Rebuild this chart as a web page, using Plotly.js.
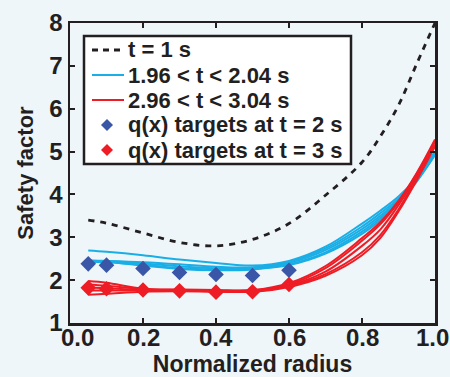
<!DOCTYPE html>
<html><head><meta charset="utf-8">
<script src="https://cdn.plot.ly/plotly-3.0.1.min.js"></script>
<style>html,body{margin:0;padding:0;background:#eef6fa;}</style>
</head><body><div id="chart" style="width:450px;height:377px;"></div>
<script>
const radius = [0.05,0.1,0.2,0.3,0.4,0.5,0.6,0.7,0.8,0.85,0.9,0.95,1.0];
const qT1 = [3.40,3.33,3.10,2.88,2.80,2.95,3.32,3.98,4.75,5.35,6.08,7.05,8.0];
const qBlue1 = [2.69,2.66,2.58,2.48,2.40,2.34,2.45,2.78,3.32,3.62,3.95,4.40,5.00];
const qBlue2 = [2.46,2.45,2.42,2.37,2.31,2.30,2.43,2.74,3.25,3.56,3.90,4.38,4.98];
const qBlue3 = [2.45,2.44,2.39,2.32,2.28,2.28,2.40,2.70,3.19,3.50,3.86,4.34,4.95];
const qBlue4 = [2.43,2.42,2.36,2.28,2.25,2.26,2.37,2.65,3.13,3.45,3.83,4.32,4.93];
const qBlue5 = [2.44,2.43,2.34,2.26,2.23,2.25,2.35,2.62,3.08,3.40,3.80,4.30,4.92];
const qRed1 = [1.98,1.94,1.80,1.78,1.77,1.77,1.93,2.33,2.98,3.35,3.85,4.50,5.28];
const qRed2 = [1.90,1.87,1.79,1.77,1.76,1.76,1.90,2.28,2.92,3.30,3.82,4.48,5.25];
const qRed3 = [1.83,1.81,1.77,1.76,1.75,1.75,1.88,2.20,2.80,3.18,3.75,4.45,5.22];
const qRed4 = [1.76,1.76,1.76,1.75,1.74,1.74,1.86,2.14,2.65,3.05,3.65,4.38,5.15];
const qRed5 = [1.66,1.68,1.73,1.74,1.73,1.73,1.84,2.10,2.58,2.98,3.60,4.33,5.12];
const targetX = [0.05,0.1,0.2,0.3,0.4,0.5,0.6];
const targetT2 = [2.38,2.35,2.27,2.18,2.13,2.11,2.23];
const targetT3 = [1.82,1.80,1.77,1.75,1.72,1.73,1.90];
const names = ["t = 1 s","1.96 < t < 2.04 s","2.96 < t < 3.04 s","q(x) targets at t = 2 s","q(x) targets at t = 3 s"];
const xTickVals = [0,0.2,0.4,0.6,0.8,1.0];
const xTickText = ["0.0","0.2","0.4","0.6","0.8","1.0"];
const yTickVals = [1,2,3,4,5,6,7,8];
const yTickText = ["1","2","3","4","5","6","7","8"];

const BLUE = "#1aaee6", RED = "#ee1c25", DKBLUE = "#3a56a6", INK = "#231f20", BG = "#eef6fa";
const traces = [];
[qBlue1,qBlue2,qBlue3,qBlue4,qBlue5].forEach((q,i)=>traces.push({
  x: radius, y: q, mode:"lines", line:{color:BLUE,width:2,shape:"spline"},
  name: names[1], showlegend:false}));
[qRed1,qRed2,qRed3,qRed4,qRed5].forEach((q,i)=>traces.push({
  x: radius, y: q, mode:"lines", line:{color:RED,width:2,shape:"spline"},
  name: names[2], showlegend:false}));
traces.push({x: radius, y: qT1, mode:"lines", line:{color:INK,width:2.8,dash:"6px,6px",shape:"spline"},
  name: names[0], showlegend:false});
traces.push({x: targetX, y: targetT2, mode:"markers", marker:{symbol:"diamond",size:12,color:DKBLUE},
  name: names[3], showlegend:false});
traces.push({x: targetX, y: targetT3, mode:"markers", marker:{symbol:"diamond",size:12,color:RED},
  name: names[4], showlegend:false});

// plot area in pixels (for legend placement in paper coords)
const L = 70, R = 435, T = 23, B = 323;
const px = v => (v - L) / (R - L);
const py = v => (B - v) / (B - T);

const FONT = "Liberation Sans Narrow, Arial Narrow, Liberation Sans, sans-serif";
const shapes = [
  {type:"rect", xref:"paper", yref:"paper", x0:px(84), x1:px(351), y0:py(164), y1:py(36),
   fillcolor:"#ffffff", line:{color:INK, width:2.5}, layer:"above"}
];
const rowY = [50, 75, 100, 125, 150];
shapes.push({type:"line", xref:"paper", yref:"paper", x0:px(92), x1:px(125), y0:py(rowY[0]), y1:py(rowY[0]),
  line:{color:INK, width:2.8, dash:"6px,5px"}, layer:"above"});
shapes.push({type:"line", xref:"paper", yref:"paper", x0:px(92), x1:px(124), y0:py(rowY[1]), y1:py(rowY[1]),
  line:{color:BLUE, width:2}, layer:"above"});
shapes.push({type:"line", xref:"paper", yref:"paper", x0:px(92), x1:px(124), y0:py(rowY[2]), y1:py(rowY[2]),
  line:{color:RED, width:2}, layer:"above"});
function diamond(cx, cy, r, color){
  const p = `M ${px(cx)},${py(cy-r)} L ${px(cx+r)},${py(cy)} L ${px(cx)},${py(cy+r)} L ${px(cx-r)},${py(cy)} Z`;
  return {type:"path", xref:"paper", yref:"paper", path:p, fillcolor:color, line:{width:0}, layer:"above"};
}
shapes.push(diamond(107, rowY[3], 6, DKBLUE));
shapes.push(diamond(107, rowY[4], 6, RED));

const annotations = names.map((n,i)=>({
  text:n, xref:"paper", yref:"paper", x:px(126), y:py(rowY[i]), xanchor:"left", yanchor:"middle",
  showarrow:false, font:{family:FONT, size:22, color:INK, weight:"bold"}
}));
// x tick labels (end labels nudged inward as in the reference)
const xShift = [7,0,0,0,0,-3];
xTickVals.forEach((v,i)=>annotations.push({
  text:xTickText[i], xref:"x", yref:"paper", x:v, y:py(337), xanchor:"center", yanchor:"middle",
  xshift:xShift[i], showarrow:false, font:{family:FONT, size:24, color:INK, weight:"bold"}
}));

const axisCommon = {showline:true, linecolor:INK, linewidth:2.5, mirror:"ticks", ticks:"inside",
  ticklen:5, tickwidth:2, tickcolor:INK, showgrid:false, zeroline:false, tickmode:"array",
  tickfont:{family:FONT, size:24, color:INK, weight:"bold"}};
const layout = {
  width:450, height:377,
  margin:{l:70, r:15, t:23, b:54},
  paper_bgcolor:BG, plot_bgcolor:BG,
  font:{family:FONT, color:INK},
  xaxis: Object.assign({}, axisCommon, {range:[0,1], tickvals:xTickVals, showticklabels:false,
    title:{text:"Normalized radius", font:{family:FONT,size:23,color:INK,weight:"bold"}, standoff:32}}),
  yaxis: Object.assign({}, axisCommon, {range:[1,8], tickvals:yTickVals, ticktext:yTickText,
    title:{text:"Safety factor", font:{family:FONT,size:22,color:INK,weight:"bold"}, standoff:10}}),
  shapes: shapes,
  annotations: annotations,
  showlegend:false
};
Plotly.newPlot("chart", traces, layout, {displayModeBar:false, staticPlot:true});
</script></body></html>
